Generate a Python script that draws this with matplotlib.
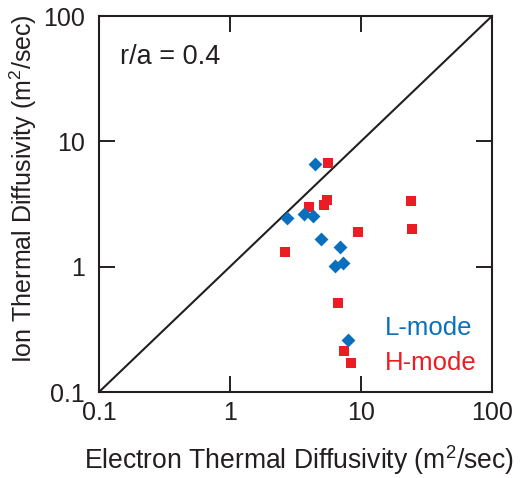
import matplotlib
matplotlib.use("Agg")
import matplotlib.pyplot as plt

plt.rcParams["font.family"] = ["Liberation Sans", "DejaVu Sans"]
plt.rcParams["mathtext.default"] = "regular"

# L-mode points (electron, ion thermal diffusivity)
l_chi_e = [4.46, 2.72, 3.70, 4.33, 4.95, 6.88, 6.33, 7.25, 7.91]
l_chi_i = [6.60, 2.43, 2.64, 2.54, 1.67, 1.44, 1.01, 1.06, 0.26]

# H-mode points
h_chi_e = [5.60, 5.47, 5.22, 3.99, 24.1, 24.5, 9.49, 2.63, 6.68, 7.42, 8.39]
h_chi_i = [6.76, 3.41, 3.12, 3.01, 3.36, 2.01, 1.90, 1.32, 0.513, 0.212, 0.171]

tick_vals = [0.1, 1, 10, 100]
tick_labels = ["0.1", "1", "10", "100"]

blue = "#0A70BE"
red = "#EC1C24"
ink = "#231F20"

W, H = 524, 478
fig = plt.figure(figsize=(W / 100, H / 100), dpi=100)
ax = fig.add_axes([99 / W, (H - 392) / H, 393 / W, 376 / H])

ax.plot([0.1, 100], [0.1, 100], color=ink, lw=1.5, zorder=1)
ax.scatter(h_chi_e, h_chi_i, marker="s", s=54, color=red, linewidths=0, zorder=2)
ax.scatter(l_chi_e, l_chi_i, marker="D", s=50, color=blue, linewidths=0, zorder=3)

ax.set_xscale("log")
ax.set_yscale("log")
ax.set_xlim(0.1, 100)
ax.set_ylim(0.1, 100)
ax.set_xticks(tick_vals)
ax.set_yticks(tick_vals)
ax.set_xticklabels(tick_labels)
ax.set_yticklabels(tick_labels)
ax.minorticks_off()
ax.tick_params(direction="in", length=11.5, width=1.4, top=True, right=True,
               labelsize=18, colors=ink)
ax.tick_params(axis="x", pad=6.5)
ax.tick_params(axis="y", pad=10)
for s in ax.spines.values():
    s.set_linewidth(1.5)
    s.set_color(ink)

# axis titles placed by hand
fig.text(299 / W, 1 - 469 / H, "Electron Thermal Diffusivity (m$^2$/sec)",
         fontsize=19.1, color=ink, ha="center", va="baseline")
fig.text(32 / W, 1 - 189 / H, "Ion Thermal Diffusivity (m$^2$/sec)",
         fontsize=18, color=ink, ha="center", va="baseline",
         rotation=90, rotation_mode="anchor")

fig.text(120 / W, 1 - 64 / H, "r/a = 0.4", fontsize=19.5, color=ink, va="baseline")
fig.text(384.5 / W, 1 - 335 / H, "L-mode", fontsize=18.5, color=blue, va="baseline")
fig.text(384.5 / W, 1 - 370 / H, "H-mode", fontsize=18.5, color=red, va="baseline")

fig.savefig("out.png", dpi=100)
